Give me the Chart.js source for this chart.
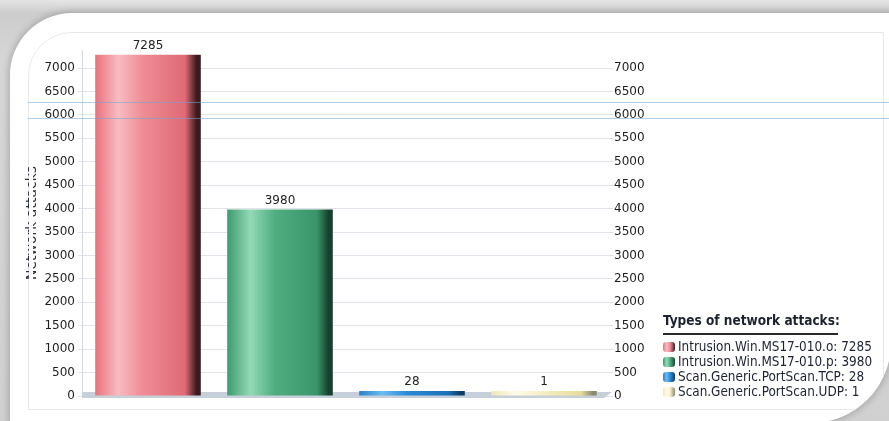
<!DOCTYPE html>
<html>
<head>
<meta charset="utf-8">
<script src="https://cdn.jsdelivr.net/npm/chart.js@4"></script>
<style>
    html, body { margin: 0; padding: 0; }
    body {
        width: 889px; height: 421px; overflow: hidden; position: relative;
        background: linear-gradient(180deg, #e4e4e4 0px, #cdcdcd 13px, #d6d6d6 60px, #d0d0d0 100%);
        font-family: "DejaVu Sans", Verdana, sans-serif;
    }
    #panel {
        position: absolute; left: 10px; top: 13px; width: 881px; height: 410px;
        background: #fff; overflow: hidden;
        border-radius: 62px 0 80px 0;
        box-shadow: 0 0 6px 2px rgba(0,0,0,0.18);
    }
    #inner {
        position: absolute; left: 18px; top: 19px; width: 854px; height: 376px;
        border: 1px solid #e6e8ec; border-radius: 44px 0 0 0;
    }
    #chart { position: absolute; left: -10px; top: -13px; }
    .scan { position: absolute; left: 18px; width: 870px; height: 1px; background: rgba(110,165,210,0.55); }
    #mask { position: absolute; left: 19px; top: 150px; width: 4px; height: 160px; background: #fff; }
    #legend { position: absolute; left: 653px; top: 299px; color: #1c2230; }
    #legend .title { font-family: "DejaVu Sans Condensed", "DejaVu Sans", sans-serif; font-weight: bold; font-size: 13.5px; padding-bottom: 5px; border-bottom: 2px solid #2a2a2a; width: 175px; white-space: nowrap; }
    #legend .items { margin-top: 4px; }
    #legend .item { font-family: "DejaVu Sans Condensed", "DejaVu Sans", sans-serif; font-size: 13.4px; line-height: 15px; white-space: nowrap; }
    #legend .box { display: inline-block; width: 12px; height: 10px; margin-right: 3px; vertical-align: -1px; border-radius: 3px; }
</style>
</head>
<body>
<div id="panel">
    <div id="inner"></div>
    <canvas id="chart" width="889" height="421"></canvas>
    <div id="mask"></div>
    <div class="scan" style="top: 89px;"></div>
    <div class="scan" style="top: 105px;"></div>
    <div id="legend"></div>
</div>
<script>
// chart data
const categories = ['Intrusion.Win.MS17-010.o', 'Intrusion.Win.MS17-010.p', 'Scan.Generic.PortScan.TCP', 'Scan.Generic.PortScan.UDP'];
const attacks = [7285, 3980, 28, 1];
const tickValues = [0, 500, 1000, 1500, 2000, 2500, 3000, 3500, 4000, 4500, 5000, 5500, 6000, 6500, 7000];
const legendTitle = 'Types of network attacks:';
const axisTitle = 'Network attacks';

// cylinder shading: [left edge, highlight, body, right shade, dark edge]
const shades = [
    ['#e8727c', '#f8bcc2', '#ee8c95', '#e06a75', '#3b1b1e'],
    ['#3d9a6f', '#93dab6', '#4fae80', '#3a946a', '#173f2d'],
    ['#2a80c9', '#6bbcf2', '#2c8bd6', '#1c6fb4', '#0d3c66'],
    ['#efe6b4', '#fffcea', '#f8f0c8', '#e9dc9c', '#8a8a70']
];

const cylinderPlugin = {
    id: 'cylinder',
    beforeDatasetsDraw(chart) {
        const c = chart.ctx;
        const area = chart.chartArea;
        // grey floor under the bars
        c.save();
        c.fillStyle = '#c7cfda';
        c.beginPath();
        c.moveTo(area.left, area.bottom - 4);
        c.lineTo(area.right + 2, area.bottom - 4);
        c.lineTo(area.right - 6, area.bottom + 2);
        c.lineTo(area.left, area.bottom + 2);
        c.closePath();
        c.fill();
        c.restore();

        chart.getDatasetMeta(0).data.forEach((el, i) => {
            const x0 = el.x - el.width / 2;
            const g = c.createLinearGradient(x0, 0, x0 + el.width, 0);
            const s = shades[i];
            g.addColorStop(0, s[0]);
            g.addColorStop(0.22, s[1]);
            g.addColorStop(0.45, s[2]);
            g.addColorStop(0.85, s[3]);
            g.addColorStop(0.96, s[4]);
            g.addColorStop(1, s[4]);
            el.options.backgroundColor = g;
        });
    },
    afterDatasetsDraw(chart) {
        const c = chart.ctx;
        c.save();
        c.font = '12px "DejaVu Sans"';
        c.fillStyle = '#222';
        c.textAlign = 'center';
        c.textBaseline = 'bottom';
        chart.getDatasetMeta(0).data.forEach((el, i) => {
            c.fillText(String(attacks[i]), el.x, el.y - 3);
        });
        c.restore();
    }
};

const fixTicks = scale => { scale.ticks = tickValues.map(v => ({ value: v })); };
const plainLabel = v => String(v);

new Chart(document.getElementById('chart'), {
    type: 'bar',
    data: {
        labels: categories,
        datasets: [{
            label: axisTitle,
            data: attacks,
            backgroundColor: shades.map(s => s[2]),
            borderWidth: 0,
            barPercentage: 0.8,
            categoryPercentage: 1,
            minBarLength: 5
        }]
    },
    options: {
        responsive: false,
        animation: false,
        devicePixelRatio: 1,
        layout: { padding: { left: 14, top: 50, right: 0, bottom: 25 } },
        plugins: { legend: { display: false }, tooltip: { enabled: false } },
        scales: {
            x: { display: false },
            y: {
                position: 'left',
                min: 0, max: 7385,
                afterBuildTicks: fixTicks,
                afterFit: scale => { scale.width = 68; },
                ticks: { color: '#1e1e1e', font: { family: 'DejaVu Sans', size: 12 }, padding: 3, callback: plainLabel },
                grid: { color: '#e1e5eb', tickLength: 4 },
                border: { color: '#d3d9e3' },
                title: {
                    display: true, text: axisTitle, color: '#2a2f3a',
                    font: { family: 'DejaVu Sans', size: 14 }, padding: { top: 10, bottom: 0 }
                }
            },
            y2: {
                position: 'right',
                min: 0, max: 7385,
                afterBuildTicks: fixTicks,
                afterFit: scale => { scale.width = 279; },
                ticks: { color: '#1e1e1e', font: { family: 'DejaVu Sans', size: 12 }, padding: 1, callback: plainLabel },
                grid: { drawOnChartArea: false, drawTicks: true, tickLength: 3, color: '#d8dde4' },
                border: { display: false }
            }
        }
    },
    plugins: [cylinderPlugin]
});

// legend built from the same arrays
const legend = document.getElementById('legend');
let html = `<div class="title">${legendTitle}</div><div class="items">`;
categories.forEach((name, i) => {
    const s = shades[i];
    html += `<div class="item"><span class="box" style="background: linear-gradient(90deg, ${s[0]}, ${s[1]} 30%, ${s[2]} 60%, ${s[4]})"></span>${name}: ${attacks[i]}</div>`;
});
legend.innerHTML = html + '</div>';
</script>
</body>
</html>
